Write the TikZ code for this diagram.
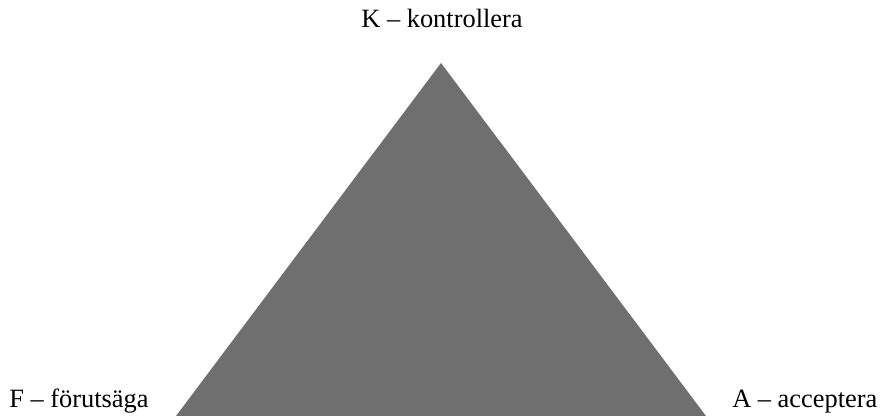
\documentclass[tikz,border=0pt]{standalone}
\usepackage{fontspec}
\setmainfont{Liberation Serif}
\usepackage{tikz}
\usetikzlibrary{positioning,calc}
\definecolor{trigrey}{RGB}{111,111,111}

\begin{document}
\begin{tikzpicture}[
  x=0.75pt, y=-0.75pt,
  corner/.style={font=\fontsize{19.8}{23}\selectfont, inner sep=0pt},
]
  \useasboundingbox (0,0) rectangle (882,416);
  % triangle
  \coordinate (top) at (441,63);
  \coordinate (left) at (176,416);
  \coordinate (right) at (706,416);
  \fill[trigrey] (top) -- (left) -- (right) -- cycle;
  % labels
  \node[corner, anchor=base] (k) at (442,28) {K -- kontrollera};
  \node[corner, anchor=base west] (f) at (9,408) {F -- förutsäga};
  \node[corner, anchor=base west] (a) at (732,408) {A -- acceptera};
\end{tikzpicture}
\end{document}
